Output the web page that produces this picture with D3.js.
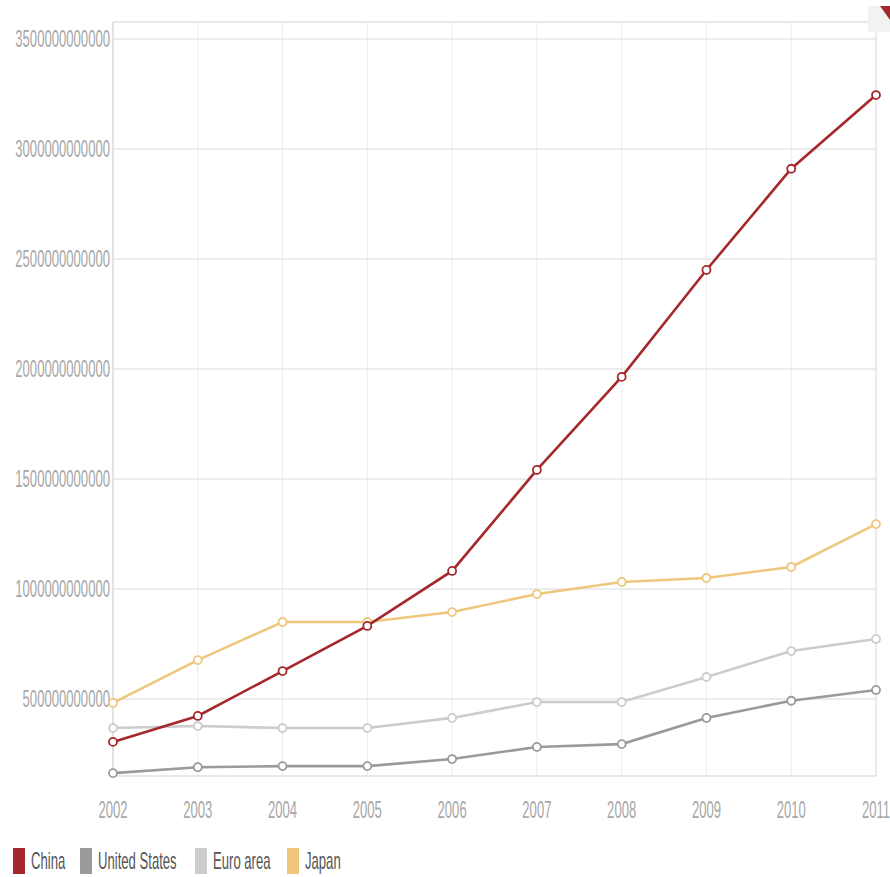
<!DOCTYPE html>
<html><head><meta charset="utf-8">
<script src="https://cdn.jsdelivr.net/npm/d3@7"></script>
<style>body{margin:0;background:#fff}svg{display:block}</style>
</head><body><svg id="c" width="890" height="877"></svg>
<script>
const years = [2002,2003,2004,2005,2006,2007,2008,2009,2010,2011];
const china = [0.305,0.423,0.627,0.832,1.082,1.541,1.964,2.45,2.91,3.245].map(v=>v*1e12);
const unitedStates = [0.163,0.19,0.195,0.195,0.227,0.282,0.295,0.414,0.492,0.541].map(v=>v*1e12);
const euroArea = [0.368,0.377,0.368,0.368,0.414,0.486,0.486,0.6,0.718,0.773].map(v=>v*1e12);
const japan = [0.482,0.677,0.85,0.85,0.895,0.977,1.032,1.05,1.1,1.295].map(v=>v*1e12);
const seriesNames = ["China","United States","Euro area","Japan"];
const seriesColors = ["#a5282c","#9a9a9a","#cccccc","#efc77c"];
const yTicks = [500e9,1000e9,1500e9,2000e9,2500e9,3000e9,3500e9];

const series = [china, unitedStates, euroArea, japan];
const svg = d3.select("#c");
const x = d3.scaleLinear().domain([2002,2011]).range([113,876]);
const y = d3.scaleLinear().domain([0.15e12,3.577e12]).range([776,22]);
const SX = 0.57;
const font = "'Liberation Sans', Arial, sans-serif";

// vertical grid
svg.append("g").selectAll("line").data(years).join("line")
  .attr("x1",d=>x(d)).attr("x2",d=>x(d)).attr("y1",22).attr("y2",776)
  .attr("stroke","#ececec").attr("stroke-width",1);
// horizontal grid
svg.append("g").selectAll("line").data(yTicks).join("line")
  .attr("x1",113).attr("x2",876).attr("y1",d=>y(d)).attr("y2",d=>y(d))
  .attr("stroke","#e6e6e6").attr("stroke-width",1.5);
// frame lines
svg.append("line").attr("x1",113).attr("x2",870).attr("y1",22).attr("y2",22).attr("stroke","#e0e0e0").attr("stroke-width",1.5);
svg.append("line").attr("x1",113).attr("x2",876).attr("y1",776).attr("y2",776).attr("stroke","#e0e0e0").attr("stroke-width",1.5);
svg.append("line").attr("x1",113).attr("x2",113).attr("y1",22).attr("y2",776).attr("stroke","#cfcfcf").attr("stroke-width",1);
svg.append("line").attr("x1",876).attr("x2",876).attr("y1",32).attr("y2",776).attr("stroke","#e0e0e0").attr("stroke-width",1);

// y labels
svg.append("g").selectAll("text").data(yTicks).join("text")
  .attr("transform",d=>`translate(110,${y(d)+8}) scale(${SX},1)`)
  .attr("text-anchor","end").attr("font-family",font).attr("font-size",23)
  .attr("fill","#a8a8a8").text(d=>d3.format("d")(d));
// x labels
svg.append("g").selectAll("text").data(years).join("text")
  .attr("transform",d=>`translate(${x(d)},818) scale(${SX},1)`)
  .attr("text-anchor","middle").attr("font-family",font).attr("font-size",23)
  .attr("fill","#a8a8a8").text(d=>d);

// lines (draw in reverse so China on top)
const line = d3.line().x((d,i)=>x(years[i])).y(d=>y(d));
const order = [2,1,3,0];
order.forEach(k=>{
  svg.append("path").datum(series[k]).attr("d",line)
    .attr("fill","none").attr("stroke",seriesColors[k]).attr("stroke-width",2.6);
  svg.append("g").selectAll("circle").data(series[k]).join("circle")
    .attr("cx",(d,i)=>x(years[i])).attr("cy",d=>y(d)).attr("r",4)
    .attr("fill","#fff").attr("stroke",seriesColors[k]).attr("stroke-width",1.8);
});

// top-right button
svg.append("rect").attr("x",868).attr("y",6).attr("width",22).attr("height",26).attr("fill","#f2f2f2");
svg.append("path").attr("d","M880,6 L890,6 L890,20 Z").attr("fill","#a5282c");

// legend
const legX = [13,80,195,287];
const legG = svg.append("g");
seriesNames.forEach((n,i)=>{
  legG.append("rect").attr("x",legX[i]).attr("y",848).attr("width",12).attr("height",26).attr("fill",seriesColors[i]);
  legG.append("text").attr("transform",`translate(${legX[i]+18},869) scale(${SX},1)`)
    .attr("font-family",font).attr("font-size",23).attr("fill","#555").text(n);
});
</script></body></html>
